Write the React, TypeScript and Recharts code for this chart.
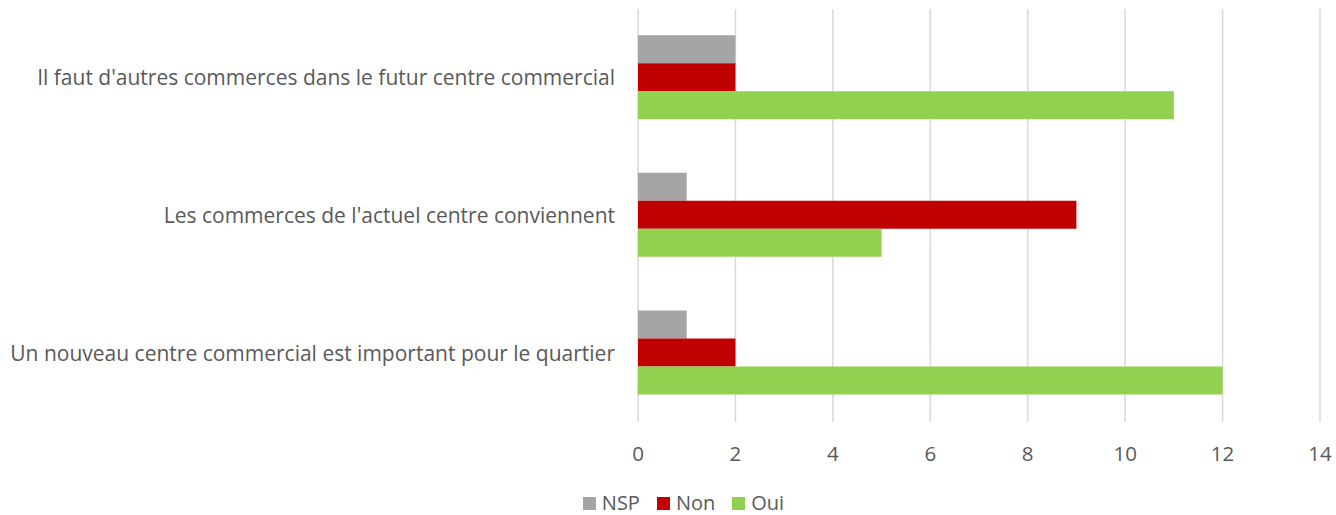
import {
  BarChart,
  Bar,
  XAxis,
  YAxis,
  CartesianGrid,
  Legend,
} from "recharts";

const categories = [
  "Il faut d'autres commerces dans le futur centre commercial",
  "Les commerces de l'actuel centre conviennent",
  "Un nouveau centre commercial est important pour le quartier",
];
const nsp = [2, 1, 1];
const non = [2, 9, 2];
const oui = [11, 5, 12];
const xTicks = [0, 2, 4, 6, 8, 10, 12, 14];

const series = [
  { key: "NSP", color: "#A5A5A5" },
  { key: "Non", color: "#C00000" },
  { key: "Oui", color: "#92D050" },
];

const data = categories.map((c, i) => ({
  categorie: c,
  NSP: nsp[i],
  Non: non[i],
  Oui: oui[i],
}));

const font = "'Open Sans', sans-serif";
const textColor = "#595959";

function LegendBox() {
  return (
    <div
      style={{
        display: "flex",
        justifyContent: "center",
        fontFamily: font,
        fontSize: 20,
        lineHeight: "18px",
        color: textColor,
        paddingLeft: 64,
        paddingTop: 7,
      }}
    >
      {series.map((s) => (
        <div
          key={s.key}
          style={{ display: "flex", alignItems: "center", marginRight: 17 }}
        >
          <span
            style={{
              width: 13,
              height: 13,
              background: s.color,
              marginRight: 6,
              display: "inline-block",
            }}
          />
          <span>{s.key}</span>
        </div>
      ))}
    </div>
  );
}

export default function App() {
  return (
    <div style={{ position: "absolute", left: 0, top: 0, fontFamily: font }}>
      <BarChart
        width={1336}
        height={515}
        data={data}
        layout="vertical"
        margin={{ top: 9, right: 16, bottom: 22, left: 0 }}
        barCategoryGap="19%"
        barGap={0}
      >
        <CartesianGrid horizontal={false} stroke="#D9D9D9" strokeWidth={1.5} />
        <XAxis
          type="number"
          domain={[0, 14]}
          ticks={xTicks}
          axisLine={false}
          tickLine={false}
          tick={{ fill: textColor, fontSize: 20.5, fontFamily: font }}
          tickMargin={18}
          height={43}
        />
        <YAxis
          type="category"
          dataKey="categorie"
          width={638}
          axisLine={false}
          tickLine={false}
          tickMargin={17}
          tick={{ fill: textColor, fontSize: 21, fontFamily: font }}
        />
        <Legend
          verticalAlign="bottom"
          height={28}
          wrapperStyle={{ bottom: 0 }}
          content={() => <LegendBox />}
        />
        {series.map((s) => (
          <Bar key={s.key} dataKey={s.key} fill={s.color} isAnimationActive={false} />
        ))}
      </BarChart>
    </div>
  );
}
